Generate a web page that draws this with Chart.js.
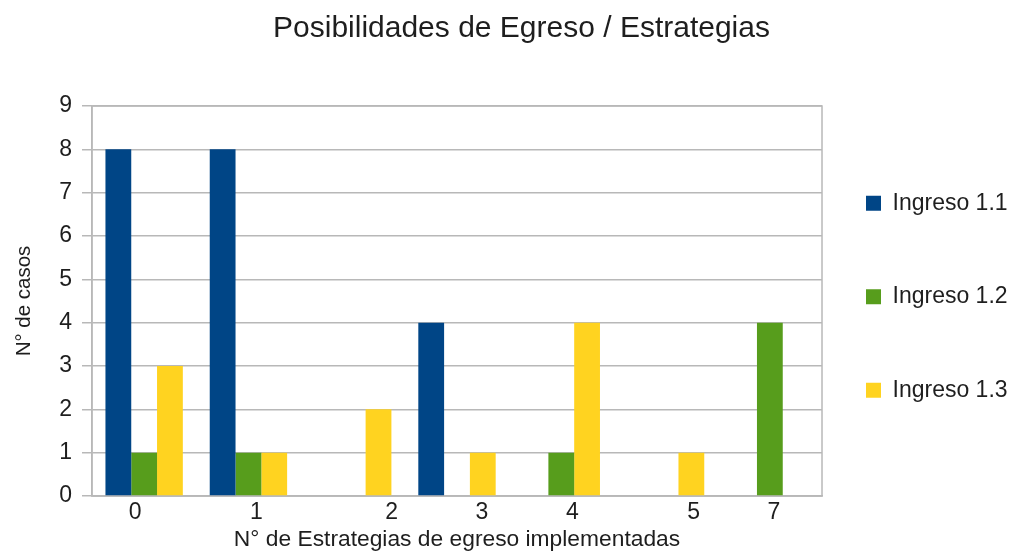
<!DOCTYPE html>
<html>
<head>
<meta charset="utf-8">
<script src="https://cdn.jsdelivr.net/npm/chart.js@4/dist/chart.umd.min.js"></script>
<style>
  html, body { margin: 0; padding: 0; background: #ffffff; }
  #wrap { width: 1012px; height: 553px; }
</style>
</head>
<body>
<div id="wrap"><canvas id="c" width="1012" height="553"></canvas></div>
<script>
// ---- data ----
const categories = ['0', '1', '2', '3', '4', '5', '7'];
const ingreso11 = [8, 8, 0, 4, 0, 0, 0];
const ingreso12 = [1, 1, 0, 0, 1, 0, 4];
const ingreso13 = [3, 1, 2, 1, 4, 1, 0];
const seriesNames = ['Ingreso 1.1', 'Ingreso 1.2', 'Ingreso 1.3'];
const yTickValues = [0, 1, 2, 3, 4, 5, 6, 7, 8, 9];

// ---- styles ----
const FONT = '"Liberation Sans", Arial, sans-serif';
const TEXT = '#1e1e1e';
const GRID = '#b8b8b8';
const colors = ['#004586', '#579d1c', '#ffd320'];
// horizontal nudges of the category labels (as placed in the reference)
const xLabelShift = [-9, 8, 39, 25, 11, 28, 4];

const framePlugin = {
  id: 'frame',
  beforeDatasetsDraw(chart) {
    const a = chart.chartArea, ctx = chart.ctx;
    ctx.save();
    ctx.strokeStyle = GRID;
    ctx.lineWidth = 1.5;
    ctx.strokeRect(a.left, a.top, a.right - a.left, a.bottom - a.top);
    ctx.restore();
  }
};

const xLabelPlugin = {
  id: 'xLabels',
  afterDraw(chart) {
    const s = chart.scales.x, ctx = chart.ctx;
    ctx.save();
    ctx.font = '23px ' + FONT;
    ctx.fillStyle = TEXT;
    ctx.textAlign = 'center';
    ctx.textBaseline = 'middle';
    s.ticks.forEach((t, i) => {
      ctx.fillText(s.getLabelForValue(t.value), s.getPixelForTick(i) + xLabelShift[i], s.top + 17);
    });
    ctx.restore();
  }
};

new Chart(document.getElementById('c'), {
  type: 'bar',
  data: {
    labels: categories,
    datasets: [
      { label: seriesNames[0], data: ingreso11, backgroundColor: colors[0] },
      { label: seriesNames[1], data: ingreso12, backgroundColor: colors[1] },
      { label: seriesNames[2], data: ingreso13, backgroundColor: colors[2] }
    ]
  },
  options: {
    responsive: false,
    animation: false,
    devicePixelRatio: 1,
    layout: { padding: { left: 32, right: 1, top: 0, bottom: 0 } },
    datasets: { bar: { categoryPercentage: 0.742, barPercentage: 1.0, borderWidth: 0 } },
    plugins: {
      title: {
        display: true,
        text: 'Posibilidades de Egreso / Estrategias',
        color: TEXT,
        font: { family: FONT, size: 30, weight: 'normal', lineHeight: 1.2 },
        padding: { top: 11, bottom: 59 }
      },
      legend: {
        position: 'right',
        align: 'center',
        maxWidth: 189,
        title: { display: true, text: '', padding: 0, font: { size: 10, lineHeight: '67px' } },
        labels: {
          color: TEXT,
          font: { family: FONT, size: 23, lineHeight: '49.5px' },
          boxWidth: 15,
          boxHeight: 15,
          padding: 44,
          generateLabels(chart) {
            const items = Chart.defaults.plugins.legend.labels.generateLabels(chart);
            items.forEach(it => { it.text = [it.text]; it.lineWidth = 0; });
            return items;
          }
        }
      },
      tooltip: { enabled: false }
    },
    scales: {
      x: {
        afterFit(scale) { scale.height = 57; },
        grid: { display: false, drawTicks: false },
        border: { display: true, color: GRID, width: 1.5 },
        ticks: { color: 'rgba(0,0,0,0)', font: { family: FONT, size: 23 }, padding: 0, maxRotation: 0 },
        title: {
          display: true,
          text: 'N° de Estrategias de egreso implementadas',
          color: TEXT,
          font: { family: FONT, size: 22.8, lineHeight: 1.2 },
          padding: { top: 0, bottom: 0 }
        }
      },
      y: {
        min: 0,
        max: 9,
        afterFit(scale) { scale.width = 60; },
        afterBuildTicks(scale) { scale.ticks = yTickValues.map(v => ({ value: v })); },
        grid: { color: GRID, lineWidth: 1.5, tickLength: 10, drawTicks: true },
        border: { display: true, color: GRID, width: 1.5 },
        ticks: { color: TEXT, font: { family: FONT, size: 23 }, padding: 10, stepSize: 1 },
        title: {
          display: true,
          text: 'N° de casos',
          color: TEXT,
          font: { family: FONT, size: 20.5, lineHeight: 1.2 },
          padding: { top: -20, bottom: 0 }
        }
      }
    }
  },
  plugins: [framePlugin, xLabelPlugin]
});
</script>
</body>
</html>
